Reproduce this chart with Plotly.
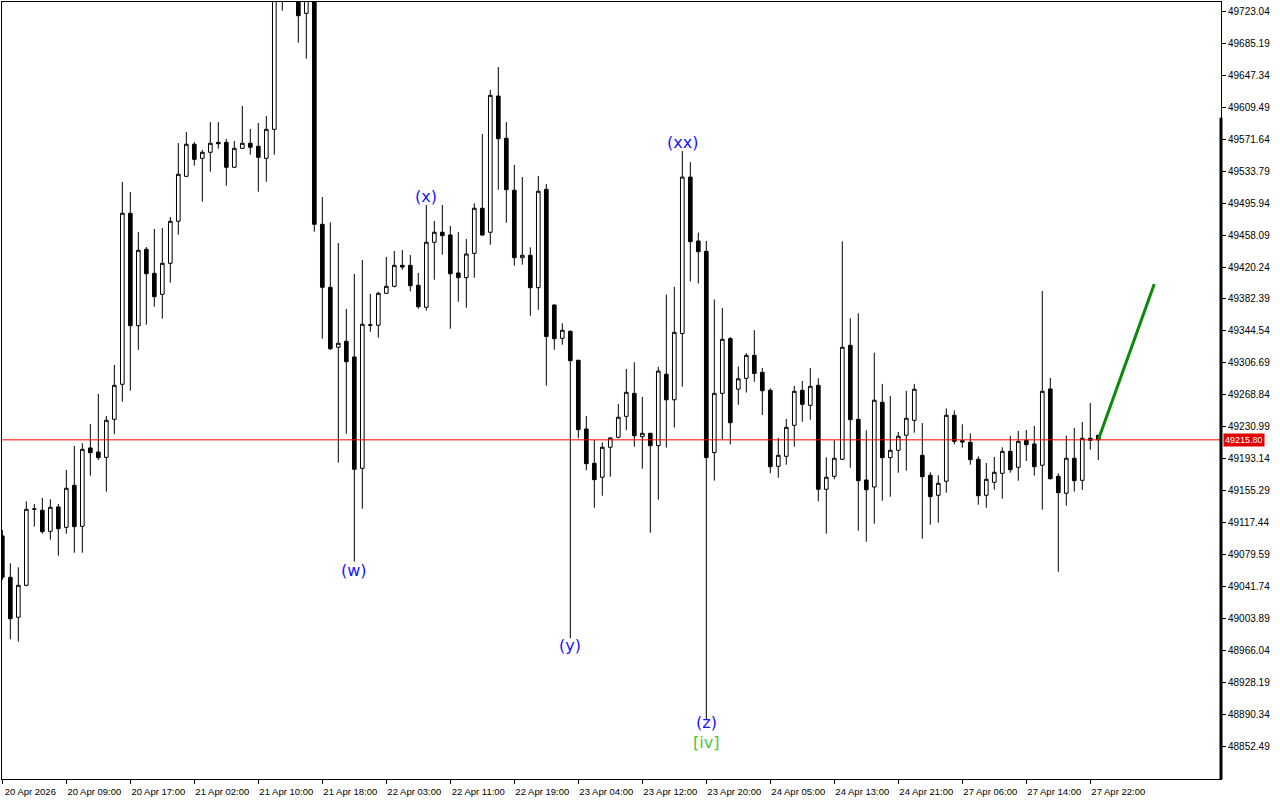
import plotly.graph_objects as go

# ---- data (hourly candles) ----
opens = [49102.1, 49053.2, 49005.9, 49043.7, 49133.6, 49132.5, 49107.6, 49136.4, 49112.3, 49162.0,
         49113.5, 49206.2, 49201.4, 49195.1, 49240.1, 49281.5, 49483.8, 49350.8, 49441.2, 49412.8,
         49387.9, 49424.6, 49474.3, 49527.5, 49565.4, 49548.8, 49555.9, 49567.7, 49567.7, 49538.2,
         49560.6, 49566.6, 49563.0, 49548.8, 49583.1, 49760.0, 49790.0, 49770.0, 49720.3, 49750.0,
         49470.7, 49396.2, 49325.3, 49332.4, 49313.8, 49182.1, 49351.3, 49351.3, 49389.1, 49397.4,
         49422.2, 49422.2, 49398.6, 49372.6, 49449.5, 49461.3, 49458.1, 49413.2, 49407.6, 49436.4,
         49489.7, 49461.3, 49622.5, 49572.5, 49511.0, 49431.2, 49434.1, 49395.8, 49512.1, 49375.3,
         49335.9, 49344.2, 49309.9, 49228.6, 49188.1, 49171.5, 49207.0, 49218.8, 49243.6, 49270.8,
         49219.5, 49223.5, 49208.9, 49293.4, 49263.2, 49341.5, 49526.6, 49451.0, 49438.8, 49200.7,
         49270.8, 49335.5, 49275.8, 49288.5, 49315.7, 49295.7, 49274.4, 49184.5, 49196.3, 49233.0,
         49274.4, 49256.6, 49280.3, 49157.3, 49172.7, 49192.8, 49327.6, 49240.1, 49168.3, 49160.0,
         49260.2, 49194.7, 49203.4, 49221.2, 49238.9, 49197.5, 49173.9, 49150.2, 49166.8, 49244.8,
         49214.8, 49212.9, 49192.8, 49150.2, 49165.6, 49176.2, 49202.2, 49183.3, 49215.3, 49210.9,
         49185.7, 49275.9, 49172.7, 49152.6, 49194.0, 49167.9, 49217.6, 49221.2]
highs = [49109.2, 49069.8, 49065.0, 49143.1, 49139.9, 49147.0, 49145.5, 49139.9, 49180.1, 49208.5,
         49211.7, 49234.5, 49270.0, 49244.0, 49304.3, 49520.8, 49509.0, 49461.6, 49443.9, 49465.2,
         49466.4, 49479.4, 49566.9, 49579.9, 49568.1, 49558.6, 49591.7, 49591.7, 49571.6, 49569.3,
         49610.7, 49583.5, 49590.6, 49598.8, 49770.0, 49800.0, 49810.0, 49780.0, 49760.0, 49755.0,
         49503.0, 49473.1, 49448.6, 49370.6, 49412.0, 49428.5, 49388.3, 49391.0, 49432.1, 49439.2,
         49440.3, 49434.4, 49413.2, 49493.6, 49474.7, 49493.6, 49468.8, 49461.6, 49453.4, 49495.6,
         49577.6, 49629.6, 49656.8, 49591.7, 49540.9, 49526.7, 49443.5, 49527.9, 49518.4, 49376.0,
         49353.7, 49345.0, 49310.5, 49244.0, 49215.6, 49212.9, 49218.8, 49258.2, 49299.6, 49307.5,
         49266.5, 49224.0, 49302.1, 49387.6, 49396.7, 49557.5, 49544.3, 49460.9, 49451.0, 49381.8,
         49371.7, 49337.4, 49302.5, 49318.4, 49345.5, 49300.8, 49276.8, 49218.0, 49240.5, 49279.5,
         49285.4, 49300.8, 49288.6, 49195.1, 49215.3, 49450.6, 49359.6, 49365.5, 49227.1, 49318.9,
         49281.9, 49267.7, 49225.1, 49273.6, 49281.9, 49235.7, 49177.4, 49173.9, 49253.1, 49250.7,
         49234.2, 49223.5, 49196.3, 49188.4, 49195.5, 49207.0, 49220.4, 49226.3, 49227.4, 49232.2,
         49391.9, 49289.0, 49176.2, 49220.7, 49229.8, 49236.9, 49259.4, 49221.5]
lows = [49050.0, 48979.9, 48977.0, 49042.5, 49113.1, 49104.8, 49097.7, 49078.8, 49104.8, 49082.3,
        49082.3, 49173.4, 49191.9, 49154.5, 49222.4, 49260.9, 49273.9, 49322.4, 49352.0, 49373.3,
        49359.1, 49401.7, 49458.4, 49526.5, 49540.1, 49497.5, 49533.0, 49560.2, 49516.4, 49537.5,
        49560.0, 49553.1, 49509.3, 49521.1, 49553.1, 49723.4, 49745.0, 49685.5, 49666.6, 49462.0,
        49335.4, 49322.1, 49188.8, 49223.1, 49071.7, 49134.4, 49343.7, 49336.6, 49388.5, 49396.2,
        49417.0, 49391.5, 49370.9, 49368.6, 49405.2, 49434.8, 49347.3, 49379.2, 49372.1, 49407.6,
        49457.3, 49446.6, 49511.7, 49472.6, 49421.8, 49423.0, 49362.6, 49369.7, 49279.8, 49322.4,
        49328.3, 48981.0, 49217.6, 49179.8, 49135.5, 49149.7, 49172.2, 49217.6, 49227.1, 49207.7,
        49181.7, 49105.9, 49145.0, 49206.6, 49230.2, 49278.6, 49403.1, 49400.7, 48885.1, 49167.6,
        49216.5, 49210.2, 49257.2, 49271.8, 49284.5, 49245.2, 49176.2, 49171.0, 49186.4, 49207.7,
        49237.2, 49239.6, 49143.1, 49104.8, 49169.1, 49192.0, 49182.8, 49108.3, 49095.3, 49116.6,
        49143.8, 49148.6, 49177.0, 49179.3, 49224.3, 49098.9, 49115.4, 49117.8, 49153.3, 49210.5,
        49206.5, 49186.4, 49139.1, 49135.5, 49156.8, 49146.2, 49177.0, 49167.5, 49190.8, 49173.4,
        49133.2, 49169.0, 49059.8, 49137.9, 49154.5, 49156.5, 49204.2, 49191.9]
closes = [49053.2, 49004.2, 49043.7, 49133.6, 49134.0, 49107.2, 49136.0, 49110.7, 49158.5, 49113.1,
          49204.6, 49200.6, 49194.7, 49238.9, 49280.3, 49483.8, 49350.8, 49440.0, 49412.3, 49385.1,
          49424.6, 49474.3, 49529.9, 49565.4, 49547.6, 49555.9, 49566.6, 49566.1, 49538.2, 49560.6,
          49566.6, 49561.8, 49550.0, 49583.1, 49760.0, 49790.0, 49770.0, 49717.5, 49750.0, 49470.7,
          49396.2, 49323.6, 49330.0, 49308.2, 49181.0, 49352.5, 49351.8, 49389.1, 49397.4, 49422.2,
          49420.2, 49398.1, 49373.3, 49449.5, 49461.3, 49457.3, 49412.3, 49407.6, 49435.6, 49489.7,
          49458.1, 49623.3, 49572.0, 49511.7, 49431.2, 49434.1, 49395.8, 49509.8, 49338.0, 49335.4,
          49345.4, 49309.4, 49227.8, 49187.6, 49168.7, 49207.0, 49218.0, 49242.5, 49272.0, 49220.7,
          49223.5, 49208.9, 49297.1, 49263.2, 49342.9, 49526.6, 49450.2, 49438.3, 49194.8, 49270.8,
          49334.7, 49236.0, 49288.0, 49315.7, 49294.4, 49273.9, 49184.0, 49197.5, 49230.6, 49273.2,
          49257.8, 49279.1, 49157.3, 49171.5, 49194.0, 49325.3, 49239.6, 49167.5, 49156.8, 49262.6,
          49194.7, 49203.4, 49220.0, 49241.3, 49275.6, 49172.2, 49148.6, 49164.4, 49244.8, 49214.0,
          49213.2, 49192.3, 49149.7, 49169.1, 49177.4, 49202.2, 49180.5, 49214.0, 49210.0, 49184.0,
          49273.2, 49169.8, 49153.3, 49194.0, 49167.5, 49217.6, 49215.3, 49215.8]

bar_index = list(range(len(opens)))

time_ticks = list(range(0, 137, 8))
time_labels = ["20 Apr 2026", "20 Apr 09:00", "20 Apr 17:00", "21 Apr 02:00", "21 Apr 10:00",
               "21 Apr 18:00", "22 Apr 03:00", "22 Apr 11:00", "22 Apr 19:00", "23 Apr 04:00",
               "23 Apr 12:00", "23 Apr 20:00", "24 Apr 05:00", "24 Apr 13:00", "24 Apr 21:00",
               "27 Apr 06:00", "27 Apr 14:00", "27 Apr 22:00"]

price_ticks = [48852.49, 48890.34, 48928.19, 48966.04, 49003.89, 49041.74, 49079.59, 49117.44,
               49155.29, 49193.14, 49230.99, 49268.84, 49306.69, 49344.54, 49382.39, 49420.24,
               49458.09, 49495.94, 49533.79, 49571.64, 49609.49, 49647.34, 49685.19, 49723.04]

current_price = 49215.80

# wave labels: (bar index, price, text, colour)
wave_labels = [
    (44, 49061.8, "(w)", "#1414ff"),
    (53, 49504.2, "(x)", "#1414ff"),
    (71, 48972.0, "(y)", "#1414ff"),
    (85, 49568.1, "(xx)", "#1414ff"),
    (88, 48882.0, "(z)", "#1414ff"),
    (88, 48857.2, "[iv]", "#3ccc3c"),
]

# projected move
proj_x = [137, 144]
proj_y = [49215.8, 49400.0]

fig = go.Figure()
fig.add_trace(go.Candlestick(
    x=bar_index, open=opens, high=highs, low=lows, close=closes,
    increasing=dict(line=dict(color="black", width=1), fillcolor="white"),
    decreasing=dict(line=dict(color="black", width=1), fillcolor="black"),
    whiskerwidth=0, hoverinfo="skip", showlegend=False,
))
fig.add_trace(go.Scatter(x=proj_x, y=proj_y, mode="lines",
                         line=dict(color="#0a8a0a", width=3), hoverinfo="skip", showlegend=False))

fig.add_hline(y=current_price, line=dict(color="#ff0000", width=1))

for xi, yi, txt, col in wave_labels:
    fig.add_annotation(x=xi, y=yi, text=txt, showarrow=False,
                       font=dict(family="DejaVu Sans", size=16, color=col),
                       xanchor="center", yanchor="middle")

fig.add_annotation(xref="paper", x=1, y=current_price, text=f"{current_price:.2f}",
                   showarrow=False, xanchor="left", yanchor="middle", xshift=2,
                   bgcolor="#e00000", borderpad=1,
                   font=dict(family="Liberation Sans", size=9, color="white"))

fig.add_shape(type="line", xref="paper", yref="paper", x0=1, x1=1, y0=0, y1=0.851,
              line=dict(color="black", width=3))

fig.update_layout(
    width=1280, height=800,
    margin=dict(l=2, r=59, t=2, b=21),
    paper_bgcolor="white", plot_bgcolor="white",
    font=dict(family="Liberation Sans", size=10, color="black"),
    boxgap=0.35,
    xaxis=dict(range=[-0.04, 152.34], rangeslider=dict(visible=False), showgrid=False,
               zeroline=False, showline=True, linecolor="black", linewidth=1, mirror=True,
               tickmode="array", tickvals=time_ticks, ticktext=time_labels,
               ticks="outside", ticklen=4, tickcolor="black", ticklabelshift=28,
               tickfont=dict(family="Liberation Sans", size=9.5, color="black")),
    yaxis=dict(range=[48814.6, 49733.7], side="right", showgrid=False, zeroline=False,
               showline=True, linecolor="black", linewidth=1, mirror=True,
               tickmode="array", tickvals=price_ticks,
               ticktext=[f"{v:.2f}" for v in price_ticks],
               ticks="outside", ticklen=4, tickcolor="black",
               tickfont=dict(family="Liberation Sans", size=10, color="black")),
)

fig.write_html("out.html", config={"displayModeBar": False},
               post_script="document.body.style.margin='0';document.body.style.overflow='hidden';")
